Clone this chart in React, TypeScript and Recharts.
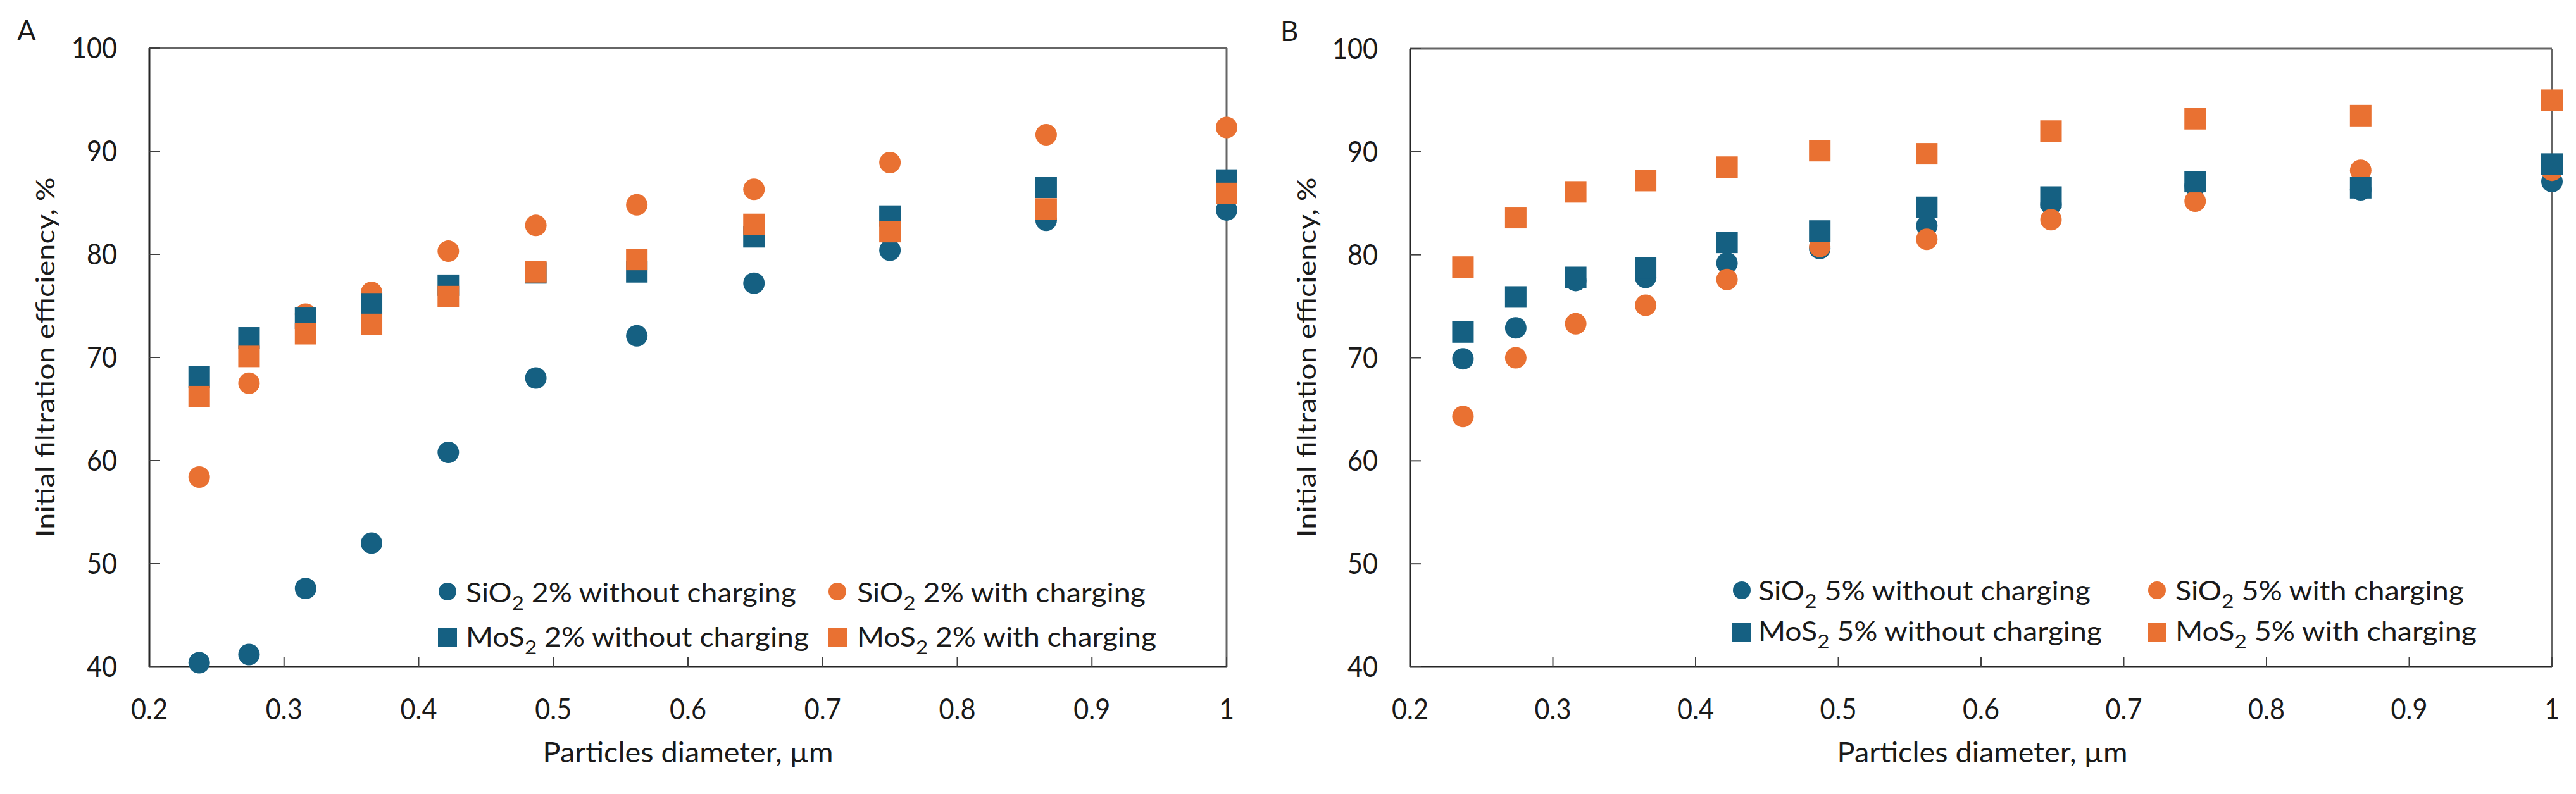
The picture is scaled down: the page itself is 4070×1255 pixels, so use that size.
import React from 'react';
import { ScatterChart, Scatter, XAxis, YAxis, ReferenceLine } from 'recharts';

// ---------- data ----------
const diameters = [0.237, 0.274, 0.316, 0.365, 0.422, 0.487, 0.562, 0.649, 0.75, 0.866, 1.0];

const sio2_2_without = [40.4, 41.2, 47.6, 52.0, 60.8, 68.0, 72.1, 77.2, 80.4, 83.3, 84.3];
const sio2_2_with = [58.4, 67.5, 74.2, 76.3, 80.3, 82.8, 84.8, 86.3, 88.9, 91.6, 92.3];
const mos2_2_without = [68.1, 71.9, 73.8, 75.2, 77.0, 78.2, 78.3, 81.7, 83.7, 86.5, 87.2];
const mos2_2_with = [66.2, 70.1, 72.3, 73.2, 75.9, 78.3, 79.5, 82.9, 82.2, 84.4, 85.9];

const sio2_5_without = [69.9, 72.9, 77.5, 77.8, 79.2, 80.6, 82.8, 84.9, 86.7, 86.3, 87.1];
const sio2_5_with = [64.3, 70.0, 73.3, 75.1, 77.6, 80.8, 81.5, 83.4, 85.2, 88.2, 88.2];
const mos2_5_without = [72.5, 75.9, 77.8, 78.7, 81.2, 82.3, 84.6, 85.6, 87.1, 86.5, 88.8];
const mos2_5_with = [78.8, 83.6, 86.1, 87.2, 88.5, 90.1, 89.8, 92.0, 93.2, 93.5, 95.0];

const xTicks = [0.2, 0.3, 0.4, 0.5, 0.6, 0.7, 0.8, 0.9, 1];
const yTicks = [40, 50, 60, 70, 80, 90, 100];

const panelLabels = ['A', 'B'];
const xTitle = 'Particles diameter, µm';
const yTitle = 'Initial filtration efficiency, %';

const legendA = [
  ['SiO', '2', ' 2% without charging'],
  ['SiO', '2', ' 2% with charging'],
  ['MoS', '2', ' 2% without charging'],
  ['MoS', '2', ' 2% with charging'],
];
const legendB = [
  ['SiO', '2', ' 5% without charging'],
  ['SiO', '2', ' 5% with charging'],
  ['MoS', '2', ' 5% without charging'],
  ['MoS', '2', ' 5% with charging'],
];

// ---------- styles ----------
const W = 4070;
const H = 1255;
const BLUE = '#156082';
const ORANGE = '#E97132';
const FONT = 'Lato, "Liberation Sans", sans-serif';
const TEXT = '#1a1a1a';

const seriesStyle = [
  { color: BLUE, shape: 'circle' },
  { color: ORANGE, shape: 'circle' },
  { color: BLUE, shape: 'square' },
  { color: ORANGE, shape: 'square' },
];

const toPoints = (vals: number[]) => diameters.map((x, i) => ({ x, y: vals[i] }));

const makeShape = (color: string, shape: string) => (props: any) => {
  const { cx, cy } = props;
  if (cx == null || cy == null) return <g />;
  if (shape === 'circle') return <circle cx={cx} cy={cy} r={17} fill={color} />;
  return <rect x={cx - 17} y={cy - 17} width={34} height={34} fill={color} />;
};

const XTick = (props: any) => {
  const { x, y, payload } = props;
  return (
    <g transform={`translate(${x},${y})`}>
      <text transform="scale(0.9,1)" x={0} y={83} textAnchor="middle" fontSize={46} fontFamily={FONT} fill={TEXT}>
        {String(payload.value)}
      </text>
    </g>
  );
};

const YTick = (props: any) => {
  const { x, y, payload } = props;
  return (
    <g transform={`translate(${x},${y})`}>
      <text transform="scale(0.9,1)" x={-51 / 0.9} y={16} textAnchor="end" fontSize={46} fontFamily={FONT} fill={TEXT}>
        {String(payload.value)}
      </text>
    </g>
  );
};

type PanelProps = {
  left: number;
  width: number;
  margin: { top: number; right: number; bottom: number; left: number };
  data: number[][];
};

function Panel({ left, width, margin, data }: PanelProps) {
  return (
    <div style={{ position: 'absolute', left, top: 0, width, height: H }}>
      <ScatterChart width={width} height={H} margin={margin}>
        <XAxis
          type="number"
          dataKey="x"
          domain={[0.2, 1]}
          ticks={xTicks}
          interval={0}
          height={100}
          tickSize={-15}
          tickMargin={15}
          tick={<XTick />}
          axisLine={{ stroke: '#262626', strokeWidth: 3 }}
          tickLine={{ stroke: '#404040', strokeWidth: 2 }}
        />
        <YAxis
          type="number"
          dataKey="y"
          domain={[40, 100]}
          ticks={yTicks}
          interval={0}
          width={100}
          tickSize={-17}
          tickMargin={17}
          tick={<YTick />}
          axisLine={{ stroke: '#262626', strokeWidth: 3 }}
          tickLine={{ stroke: '#404040', strokeWidth: 2 }}
        />
        <ReferenceLine y={100} stroke="#666666" strokeWidth={3} />
        <ReferenceLine x={1} stroke="#666666" strokeWidth={3} />
        {data.map((vals, i) => (
          <Scatter
            key={i}
            data={toPoints(vals)}
            fill={seriesStyle[i].color}
            shape={makeShape(seriesStyle[i].color, seriesStyle[i].shape)}
            isAnimationActive={false}
          />
        ))}
      </ScatterChart>
    </div>
  );
}

type LegendLayout = { cols: number[]; textX: number[]; rows: number[]; baselines: number[]; lengths: number[] };

function LegendItems({ items, layout }: { items: string[][]; layout: LegendLayout }) {
  return (
    <g>
      {items.map((parts, i) => {
        const col = i % 2;
        const row = Math.floor(i / 2);
        const st = seriesStyle[i];
        const cx = layout.cols[col];
        const cy = layout.rows[row];
        return (
          <g key={i}>
            {st.shape === 'circle' ? (
              <ellipse cx={cx} cy={cy} rx={14} ry={14} fill={st.color} />
            ) : (
              <rect x={cx - 15} y={cy - 15} width={30} height={30} fill={st.color} />
            )}
            <text
              x={layout.textX[col]}
              y={layout.baselines[row]}
              fontSize={42}
              fontFamily={FONT}
              fill={TEXT}
              textLength={layout.lengths[i]}
              lengthAdjust="spacingAndGlyphs"
            >
              {parts[0]}
              <tspan dy={12} fontSize={30}>{parts[1]}</tspan>
              <tspan dy={-12}>{parts[2]}</tspan>
            </text>
          </g>
        );
      })}
    </g>
  );
}

const layoutA: LegendLayout = {
  cols: [707, 1323],
  textX: [736, 1354],
  rows: [935, 1007],
  baselines: [952, 1022],
  lengths: [522, 456, 542, 473],
};
const layoutB: LegendLayout = {
  cols: [2752, 3408],
  textX: [2778, 3437],
  rows: [933, 1000],
  baselines: [949, 1013],
  lengths: [525, 456, 543, 476],
};

export default function App() {
  return (
    <div style={{ position: 'absolute', left: 0, top: 0, width: W, height: H, background: '#fff', overflow: 'hidden' }}>
      <Panel
        left={0}
        width={2035}
        margin={{ top: 76, right: 2035 - 1938, bottom: 1255 - 1054 - 100, left: 236 - 100 }}
        data={[sio2_2_without, sio2_2_with, mos2_2_without, mos2_2_with]}
      />
      <Panel
        left={2035}
        width={2035}
        margin={{ top: 77, right: 4070 - 4032, bottom: 1255 - 1054 - 100, left: 2228 - 2035 - 100 }}
        data={[sio2_5_without, sio2_5_with, mos2_5_without, mos2_5_with]}
      />
      <svg width={W} height={H} style={{ position: 'absolute', left: 0, top: 0, pointerEvents: 'none' }}>
        <text x={27} y={64} fontSize={44} fontFamily={FONT} fill={TEXT}>{panelLabels[0]}</text>
        <text x={2023} y={65} fontSize={44} fontFamily={FONT} fill={TEXT}>{panelLabels[1]}</text>

        <text x={1087} y={1205} fontSize={44} fontFamily={FONT} fill={TEXT} textAnchor="middle" textLength={459} lengthAdjust="spacingAndGlyphs">{xTitle}</text>
        <text x={3132} y={1205} fontSize={44} fontFamily={FONT} fill={TEXT} textAnchor="middle" textLength={459} lengthAdjust="spacingAndGlyphs">{xTitle}</text>

        <text x={71} y={565} transform="rotate(-90 71 565)" fontSize={40} fontFamily={FONT} fill={TEXT} textAnchor="middle" dominantBaseline="central" textLength={569} lengthAdjust="spacingAndGlyphs">{yTitle}</text>
        <text x={2064} y={565} transform="rotate(-90 2064 565)" fontSize={40} fontFamily={FONT} fill={TEXT} textAnchor="middle" dominantBaseline="central" textLength={569} lengthAdjust="spacingAndGlyphs">{yTitle}</text>

        <LegendItems items={legendA} layout={layoutA} />
        <LegendItems items={legendB} layout={layoutB} />
      </svg>
    </div>
  );
}
